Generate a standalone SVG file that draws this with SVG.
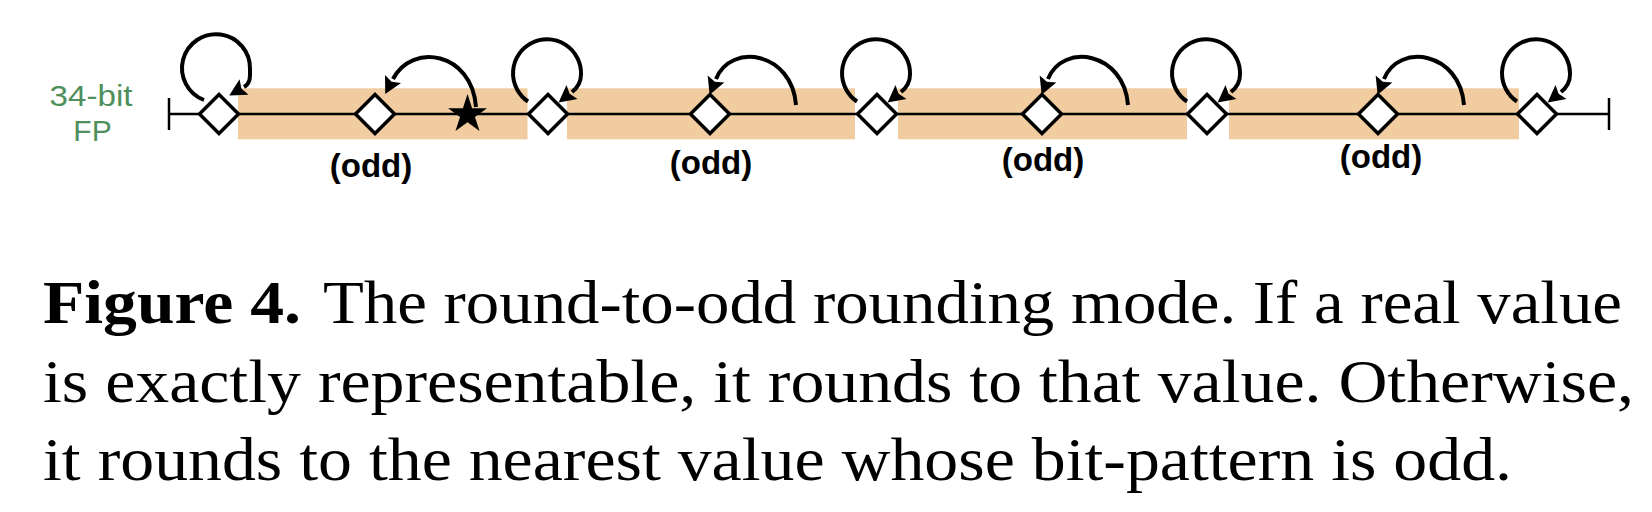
<svg xmlns="http://www.w3.org/2000/svg" width="1652" height="512" viewBox="0 0 1652 512">
<style>
.seg{fill:#F0CCA0;stroke:none}
.axis{stroke:#000;stroke-width:2.5;fill:none}
.dia{fill:#fff;stroke:#000;stroke-width:3.5;stroke-linejoin:miter}
.con{fill:none;stroke:#000;stroke-width:4}
.lbl{font-family:"Liberation Sans",Arial,sans-serif;font-size:33px;font-weight:bold;fill:#000;text-anchor:middle}
.fp{font-family:"Liberation Sans",Arial,sans-serif;font-size:30px;fill:#4F8F5B;text-anchor:middle}
.cap{font-family:"Liberation Serif","Times New Roman",serif;font-size:62px;fill:#000}
</style>
<defs>
<marker id="ah" markerUnits="userSpaceOnUse" markerWidth="20" markerHeight="20" refX="0" refY="9" orient="auto" overflow="visible">
<path d="M0,0 L17,9 L0,18 L3,9 z" fill="#000"/>
</marker>
</defs>

<g id="segments">
<rect class="seg" x="238" y="88.3" width="289.5" height="51"/>
<rect class="seg" x="567" y="88.3" width="288" height="51"/>
<rect class="seg" x="898" y="88.3" width="289" height="51"/>
<rect class="seg" x="1229" y="88.3" width="290" height="51"/>
</g>

<g id="axis">
<line class="axis" x1="169" y1="114" x2="1609" y2="114"/>
<line class="axis" x1="169" y1="98" x2="169" y2="130"/>
<line class="axis" x1="1609" y1="98" x2="1609" y2="130"/>
</g>

<g id="label-fp">
<text class="fp" x="91" y="106" textLength="83" lengthAdjust="spacingAndGlyphs">34-bit</text>
<text class="fp" x="92.5" y="141">FP</text>
</g>

<g id="n1"><polygon class="dia" points="219,94.5 238.5,114 219,133.5 199.5,114"/></g>
<g id="n2"><polygon class="dia" points="375,94.5 394.5,114 375,133.5 355.5,114"/></g>
<g id="n3"><polygon class="dia" points="548,94.5 567.5,114 548,133.5 528.5,114"/></g>
<g id="n4"><polygon class="dia" points="710,94.5 729.5,114 710,133.5 690.5,114"/></g>
<g id="n5"><polygon class="dia" points="877,94.5 896.5,114 877,133.5 857.5,114"/></g>
<g id="n6"><polygon class="dia" points="1042,94.5 1061.5,114 1042,133.5 1022.5,114"/></g>
<g id="n7"><polygon class="dia" points="1207,94.5 1226.5,114 1207,133.5 1187.5,114"/></g>
<g id="n8"><polygon class="dia" points="1378,94.5 1397.5,114 1378,133.5 1358.5,114"/></g>
<g id="n9"><polygon class="dia" points="1537,94.5 1556.5,114 1537,133.5 1517.5,114"/></g>

<g id="star">
<polygon fill="#000" points="467.5,94 472.1,108.2 487,108.2 474.95,116.9 479.55,131.1 467.5,122.3 455.45,131.1 460.05,116.9 448,108.2 462.9,108.2"/>
</g>

<g id="labels">
<text class="lbl" x="371" y="177">(odd)</text>
<text class="lbl" x="711" y="174">(odd)</text>
<text class="lbl" x="1043" y="171">(odd)</text>
<text class="lbl" x="1381" y="168">(odd)</text>
</g>

<g id="connectors">
<path class="con" marker-end="url(#ah)" d="M204,100 A34,34 0 1 1 250,69 C250,76 251,83 244,87"/>
<path class="con" marker-end="url(#ah)" d="M528,101.5 A34,34 0 1 1 581,74.5 C581,81 578.3,87.1 572,92"/>
<path class="con" marker-end="url(#ah)" d="M857,101.5 A34,34 0 1 1 910,74.5 C910,81 907.3,87.1 901,92"/>
<path class="con" marker-end="url(#ah)" d="M1187,101.5 A34,34 0 1 1 1240,74.5 C1240,81 1237.3,87.1 1231,92"/>
<path class="con" marker-end="url(#ah)" d="M1517,101.5 A34,34 0 1 1 1570,74.5 C1570,81 1567.3,87.1 1561,92"/>
<path class="con" marker-end="url(#ah)" d="M476,107 C472,52 412,42 393,79"/>
<path class="con" marker-end="url(#ah)" d="M796,105 C792,52 731,42 716,79"/>
<path class="con" marker-end="url(#ah)" d="M1128,105 C1124,52 1063,42 1048,79"/>
<path class="con" marker-end="url(#ah)" d="M1464,105 C1460,52 1399,42 1384,79"/>
</g>

<g id="caption">
<text class="cap" x="43" y="323" font-weight="bold" textLength="258" lengthAdjust="spacingAndGlyphs">Figure 4.</text>
<text class="cap" x="323" y="323" textLength="1299" lengthAdjust="spacingAndGlyphs">The round-to-odd rounding mode. If a real value</text>
<text class="cap" x="43" y="401.5" textLength="1591" lengthAdjust="spacingAndGlyphs">is exactly representable, it rounds to that value. Otherwise,</text>
<text class="cap" x="43" y="480" textLength="1469" lengthAdjust="spacingAndGlyphs">it rounds to the nearest value whose bit-pattern is odd.</text>
</g>
</svg>
